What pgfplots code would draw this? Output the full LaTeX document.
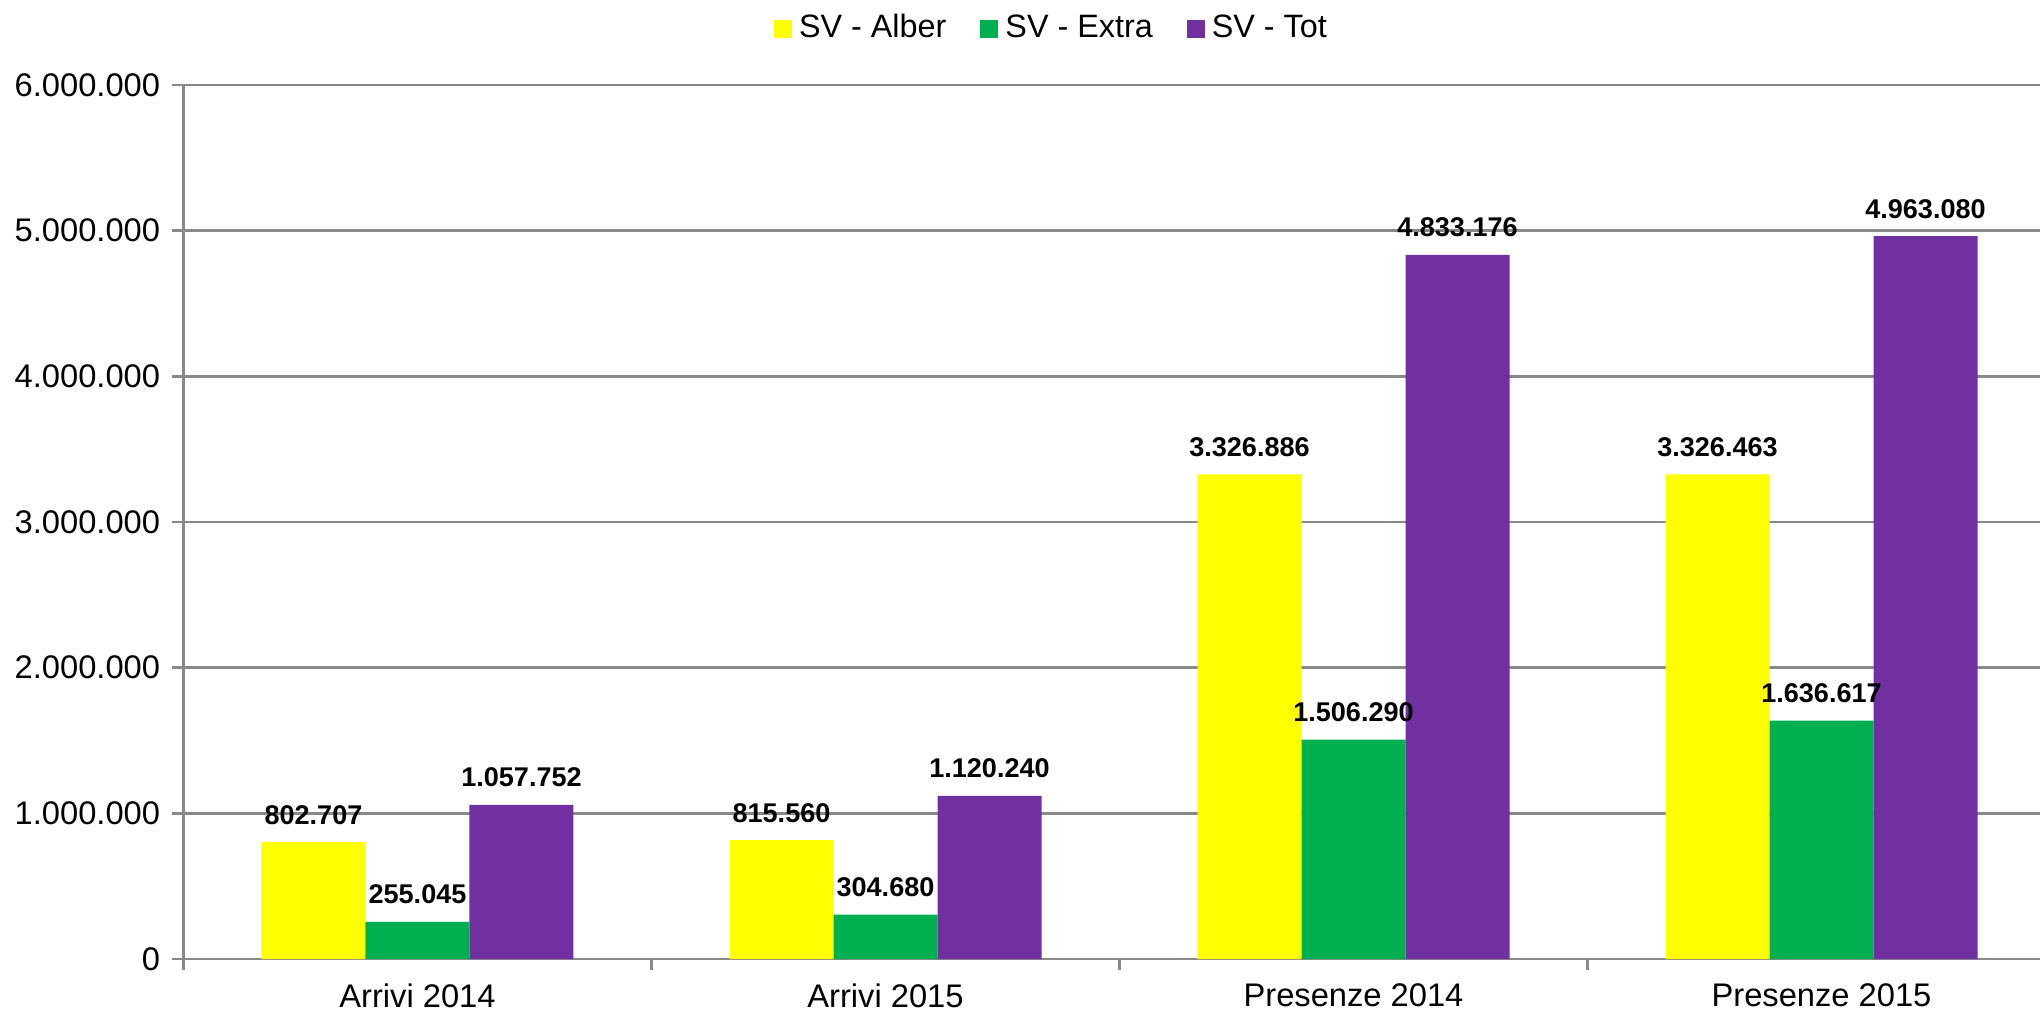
\documentclass[border=0pt]{standalone}
\usepackage{fontspec}
\setmainfont{Liberation Sans}
\usepackage{pgfplots}
\pgfplotsset{compat=1.18}
\definecolor{cy}{HTML}{FFFF00}
\definecolor{cg}{HTML}{00B050}
\definecolor{cp}{HTML}{7030A0}
\definecolor{gl}{HTML}{898989}
\pgfplotsset{sqleg/.style={legend image code/.code={\fill[##1] (-0.03cm,-0.09cm) rectangle (0.15cm,0.09cm);}}}
\begin{document}
\begin{tikzpicture}
\path[use as bounding box] (-1.835,-0.53) rectangle (18.565,9.59);
\begin{axis}[
  at={(0,0)}, anchor=south west,
  scale only axis, width=18.72cm, height=8.74cm,
  xmin=-0.5, xmax=3.5, ymin=0, ymax=6000000,
  axis x line*=bottom, axis y line*=left,
  axis line style={gl, line width=0.8pt},
  ybar=0pt, bar width=1.04cm,
  xtick={-0.5,0.5,1.5,2.5,3.5}, xticklabels={},
  extra x ticks={0,1,2,3},
  extra x tick labels={Arrivi 2014,Arrivi 2015,Presenze 2014,Presenze 2015},
  extra x tick style={major tick length=0pt, xticklabel style={yshift=-0.12cm}},
  scaled y ticks=false,
  ytick={0,1000000,2000000,3000000,4000000,5000000,6000000},
  yticklabels={0,1.000.000,2.000.000,3.000.000,4.000.000,5.000.000,6.000.000},
  ymajorgrids, major grid style={gl, line width=0.8pt},
  tick align=outside, major tick length=0.11cm,
  tick style={gl, line width=0.8pt},
  ticklabel style={font=\fontsize{9.3}{10}\selectfont, text=black},
  /pgf/number format/assume math mode=true,
  point meta=explicit symbolic,
  nodes near coords,
  every node near coord/.append style={font=\bfseries\fontsize{7.7}{9}\selectfont, text=black, inner sep=0pt, yshift=0.17cm},
  legend columns=3,
  legend style={draw=none, fill=none, font=\fontsize{9.2}{10}\selectfont,
    at={(axis description cs:0.465,1)}, anchor=center, yshift=0.565cm,
    /tikz/every even column/.append style={column sep=0.27cm}},
]
\addplot[fill=cy, draw=none, sqleg] table[x=x, y=y, meta=l] {
x y l
0 802707 802.707
1 815560 815.560
2 3326886 3.326.886
3 3326463 3.326.463
};
\addplot[fill=cg, draw=none, sqleg] table[x=x, y=y, meta=l] {
x y l
0 255045 255.045
1 304680 304.680
2 1506290 1.506.290
3 1636617 1.636.617
};
\addplot[fill=cp, draw=none, sqleg] table[x=x, y=y, meta=l] {
x y l
0 1057752 1.057.752
1 1120240 1.120.240
2 4833176 4.833.176
3 4963080 4.963.080
};
\legend{SV - Alber, SV - Extra, SV - Tot}
\end{axis}
\end{tikzpicture}
\end{document}
